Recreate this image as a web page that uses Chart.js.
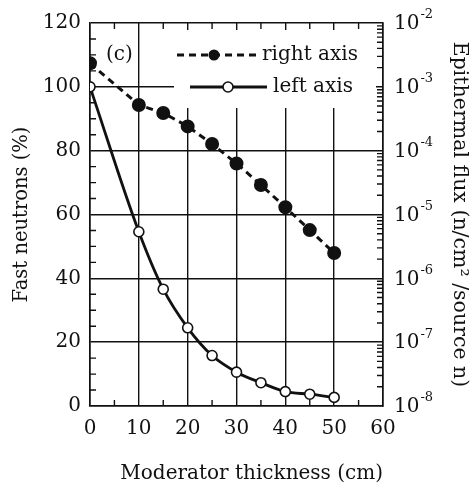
<!DOCTYPE html>
<html>
<head>
<meta charset="utf-8">
<script src="https://cdn.jsdelivr.net/npm/chart.js@4"></script>
<style>
html, body { margin: 0; padding: 0; background: #fff; }
</style>
</head>
<body>
<canvas id="myChart" width="473" height="489"></canvas>
<script>
// values
const thickness = [0, 10, 15, 20, 25, 30, 35, 40, 45, 50];
const fastNeutrons = [100, 54.6, 36.6, 24.5, 15.8, 10.6, 7.3, 4.5, 3.7, 2.7];
const epithermalFlux = [2.34e-3, 5.2e-4, 3.9e-4, 2.4e-4, 1.27e-4, 6.3e-5, 2.9e-5, 1.3e-5, 5.7e-6, 2.5e-6];
const rightExponents = [-8, -7, -6, -5, -4, -3, -2];

const FONT = "'DejaVu Serif', serif";
const INK = "#111";

Chart.defaults.font.family = FONT;
Chart.defaults.color = INK;

const decor = {
	id: "decor",
	beforeDatasetsDraw(chart) {
		const { ctx, chartArea: a, scales } = chart;
		const x = scales.x, y = scales.y, y2 = scales.y2;
		ctx.save();
		ctx.strokeStyle = INK;
		ctx.lineWidth = 1.4;
		ctx.beginPath();
		// minor ticks, x every 5
		for (let v = 5; v < 60; v += 10) {
			const px = x.getPixelForValue(v);
			ctx.moveTo(px, a.bottom); ctx.lineTo(px, a.bottom - 6);
			ctx.moveTo(px, a.top); ctx.lineTo(px, a.top + 6);
		}
		// left axis every 5
		for (let v = 5; v < 120; v += 5) {
			if (v % 20 === 0) continue;
			const py = y.getPixelForValue(v);
			ctx.moveTo(a.left, py); ctx.lineTo(a.left + 6, py);
		}
		// right axis log minor ticks
		for (let e = -8; e < -2; e++) {
			for (let m = 2; m <= 9; m++) {
				const py = y2.getPixelForValue(m * Math.pow(10, e));
				ctx.moveTo(a.right, py); ctx.lineTo(a.right - 6, py);
			}
		}
		ctx.stroke();
		// legend background
		ctx.fillStyle = "#fff";
		ctx.fillRect(174, 30, 202, 78);
		ctx.restore();
	},
	afterDraw(chart) {
		const { ctx, chartArea: a, scales } = chart;
		ctx.save();
		ctx.strokeStyle = INK;
		ctx.fillStyle = INK;

		// legend
		ctx.lineWidth = 3;
		ctx.setLineDash([7, 5]);
		ctx.beginPath(); ctx.moveTo(177, 55); ctx.lineTo(257, 55); ctx.stroke();
		ctx.setLineDash([]);
		ctx.beginPath(); ctx.arc(214, 55, 5.5, 0, 2 * Math.PI); ctx.fill();

		ctx.lineWidth = 2.8;
		ctx.beginPath(); ctx.moveTo(190, 87); ctx.lineTo(267, 87); ctx.stroke();
		ctx.fillStyle = "#fff";
		ctx.lineWidth = 1.6;
		ctx.beginPath(); ctx.arc(228, 87, 5, 0, 2 * Math.PI); ctx.fill(); ctx.stroke();

		ctx.fillStyle = INK;
		ctx.font = "20px " + FONT;
		ctx.textBaseline = "middle";
		ctx.textAlign = "left";
		ctx.fillText("right axis", 262, 55);
		ctx.fillText("left axis", 273, 87);
		ctx.fillText("(c)", 106, 55);

		// right axis labels 10^n
		const y2 = scales.y2;
		rightExponents.forEach((e) => {
			const py = y2.getPixelForValue(Math.pow(10, e));
			ctx.font = "20px " + FONT;
			ctx.fillText("10", a.right + 11, py + 1);
			const w = ctx.measureText("10").width;
			ctx.font = "13px " + FONT;
			ctx.fillText(String(e), a.right + 12 + w, py - 8);
		});
		ctx.restore();
	},
};

new Chart(document.getElementById("myChart"), {
	type: "line",
	data: {
		datasets: [
			{
				label: "right axis",
				data: thickness.map((t, i) => ({ x: t, y: epithermalFlux[i] })),
				yAxisID: "y2",
				borderColor: INK,
				borderWidth: 3,
				borderDash: [7, 5],
				pointRadius: 5.5,
				pointBackgroundColor: INK,
				pointBorderColor: INK,
				tension: 0,
			},
			{
				label: "left axis",
				data: thickness.map((t, i) => ({ x: t, y: fastNeutrons[i] })),
				yAxisID: "y",
				borderColor: INK,
				borderWidth: 2.8,
				cubicInterpolationMode: "monotone",
				pointRadius: 5,
				pointBorderWidth: 1.6,
				pointBackgroundColor: "#fff",
				pointBorderColor: INK,
			},
		],
	},
	options: {
		responsive: false,
		animation: false,
		layout: { padding: { top: 23, left: 0, right: 0, bottom: 0 } },
		plugins: { legend: { display: false }, tooltip: { enabled: false } },
		scales: {
			x: {
				type: "linear",
				min: 0,
				max: 60,
				ticks: { stepSize: 10, font: { size: 20 }, padding: 11, maxRotation: 0 },
				grid: { color: INK, lineWidth: 1.4, drawTicks: false },
				border: { color: INK, width: 1.6 },
				title: { display: true, text: "Moderator thickness (cm)", align: "end", font: { size: 20 }, padding: { top: 0, bottom: 3 } },
				afterFit: (s) => { s.height = 83; },
			},
			y: {
				position: "left",
				min: 0,
				max: 120,
				ticks: { stepSize: 20, font: { size: 20 }, padding: 9 },
				grid: { color: INK, lineWidth: 1.4, drawTicks: false },
				border: { color: INK, width: 1.6 },
				title: { display: true, text: "Fast neutrons (%)", font: { size: 19.5 }, padding: { top: 10, bottom: 0 } },
				afterFit: (s) => { s.width = 90; },
			},
			y2: {
				type: "logarithmic",
				position: "right",
				min: 1e-8,
				max: 1e-2,
				ticks: { callback: () => "" },
				grid: { drawOnChartArea: false, drawTicks: false },
				border: { color: INK, width: 1.6 },
				title: { display: true, text: "Epithermal flux (n/cm² /source n)", font: { size: 20.5 }, padding: { top: 1, bottom: 0 } },
				afterFit: (s) => { s.width = 90; },
			},
		},
	},
	plugins: [decor],
});
</script>
</body>
</html>
